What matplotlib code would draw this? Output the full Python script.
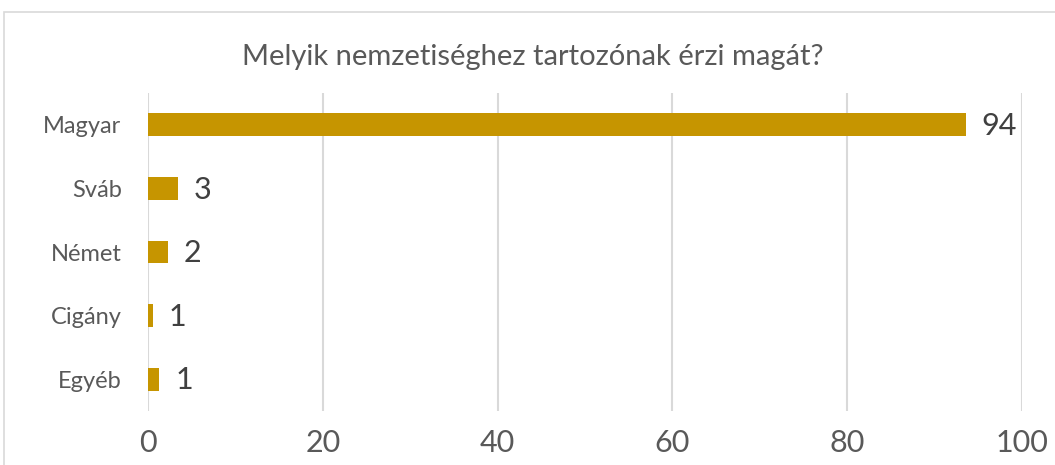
import matplotlib
matplotlib.use("Agg")
import matplotlib.pyplot as plt
from matplotlib.patches import Rectangle

plt.rcParams.update({"font.family": ["Lato", "DejaVu Sans"]})

categories = ["Magyar", "Sváb", "Német", "Cigány", "Egyéb"]
values = [93.6, 3.4, 2.3, 0.6, 1.3]
value_labels = ["94", "3", "2", "1", "1"]
xticks = [0, 20, 40, 60, 80, 100]

W, H = 1055, 465
fig = plt.figure(figsize=(W / 100, H / 100), dpi=100)

# chart frame (cut off at the right and bottom like the screenshot)
fig.patches.append(Rectangle((4 / W, -0.1), 1.2, (H - 12) / H + 0.1,
                             transform=fig.transFigure, fill=False,
                             edgecolor="#d9d9d9", lw=1.2))

ax = fig.add_axes([148 / W, 1 - 411 / H, 874 / W, 318 / H])

y = list(range(len(categories)))
ax.barh(y, values, height=0.36, color="#c69500", zorder=2)
for yi, v, lab in zip(y, values, value_labels):
    ax.text(v + 1.8, yi + 0.02, lab, va="center", ha="left", fontsize=22,
            color="#404040")

ax.set_xlim(0, 100)
ax.set_ylim(len(categories) - 0.5, -0.5)
ax.set_xticks(xticks)
ax.set_xticklabels([str(t) for t in xticks], fontsize=22, color="#595959")
ax.set_yticks(y)
ax.set_yticklabels(categories, fontsize=17, color="#595959")
ax.tick_params(axis="x", length=0, pad=13)
ax.tick_params(axis="y", length=0, pad=19)
ax.grid(axis="x", color="#d9d9d9", lw=1.5, zorder=0)
for s in ax.spines.values():
    s.set_visible(False)

fig.text(533 / W, 1 - 57 / H, "Melyik nemzetiséghez tartozónak érzi magát?",
         ha="center", va="center", fontsize=21, color="#595959")

fig.savefig("out.png", dpi=100)
